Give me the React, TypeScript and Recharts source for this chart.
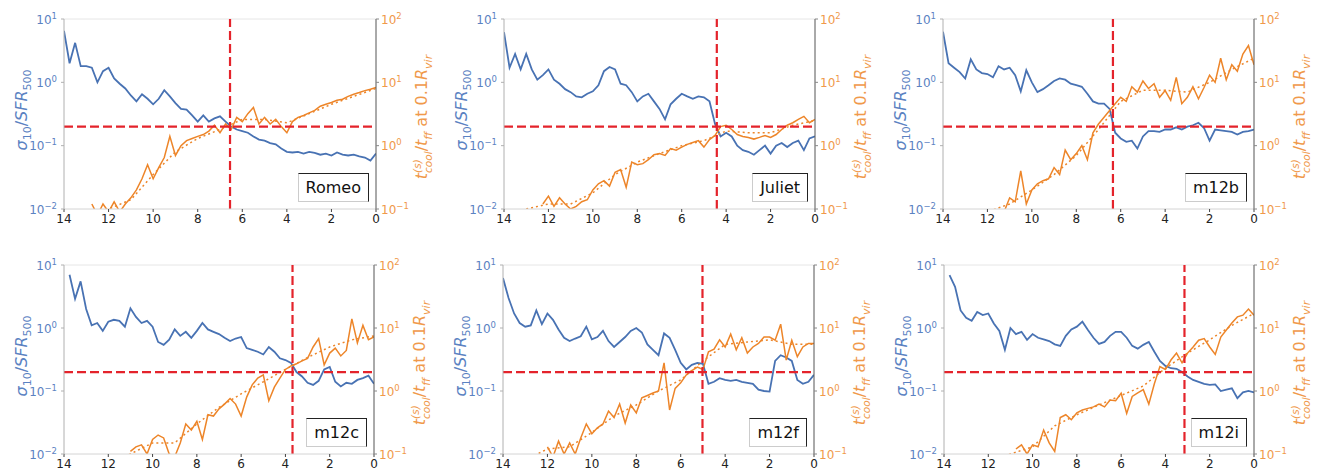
import { ComposedChart, Line, XAxis, YAxis, ReferenceLine } from "recharts";

const FONT = "'DejaVu Sans', sans-serif";
const BLUE = "#4872b3";
const ORANGE = "#ed8529";
const BLUE_TXT = "#5b82c2";
const ORANGE_TXT = "#f0994a";
const RED = "#e4232b";

// lookback time grid (Gyr) for the noisy series
const T = [14,
  13.75, 13.5, 13.25, 13, 12.75, 12.5, 12.25, 12, 11.75, 11.5, 11.25, 11,
  10.75, 10.5, 10.25, 10, 9.75, 9.5, 9.25, 9, 8.75, 8.5, 8.25, 8,
  7.75, 7.5, 7.25, 7, 6.75, 6.5, 6.25, 6, 5.75, 5.5, 5.25, 5,
  4.75, 4.5, 4.25, 4, 3.75, 3.5, 3.25, 3, 2.75, 2.5, 2.25, 2,
  1.75, 1.5, 1.25, 1, 0.75, 0.5, 0.25, 0];
// grid for the smoothed (dotted) curves
const TS = [13, 12, 11, 10, 9, 8, 7, 6, 5, 4, 3, 2, 1, 0];

const xTicks = [0, 2, 4, 6, 8, 10, 12, 14];
const leftTicks = [0.01, 0.1, 1, 10];
const leftTickExp = ["\u22122", "\u22121", "0", "1"];
const rightTicks = [0.1, 1, 10, 100];
const rightTickExp = ["\u22121", "0", "1", "2"];

const threshold = 0.2;

const romeoBlue = [6.5,
  2.0, 4.2, 1.8, 1.8, 1.7, 1.0, 1.5, 1.7, 1.15, 0.95, 0.8, 0.62,
  0.5, 0.65, 0.55, 0.45, 0.55, 0.75, 0.6, 0.47, 0.38, 0.37, 0.3, 0.24,
  0.3, 0.24, 0.27, 0.29, 0.24, 0.2, 0.18, 0.17, 0.16, 0.14, 0.125, 0.12,
  0.11, 0.105, 0.09, 0.08, 0.078, 0.08, 0.075, 0.08, 0.077, 0.072, 0.075, 0.07,
  0.078, 0.072, 0.07, 0.072, 0.068, 0.065, 0.058, 0.075];
const romeoOrange = [null,
  null, null, null, null, 0.12, 0.08, 0.12, 0.09, 0.13, 0.09, 0.12, 0.15,
  0.2, 0.3, 0.5, 0.3, 0.45, 0.65, 1.4, 0.7, 1.0, 1.2, 1.3, 1.4,
  1.5, 1.7, 2.1, 1.6, 2.2, 1.8, 2.8, 2.4, 3.2, 4.0, 2.2, 2.8,
  2.2, 2.6, 2.0, 1.6, 2.4, 2.8, 3.0, 3.3, 3.6, 4.2, 4.5, 4.8,
  5.2, 5.4, 6.0, 6.5, 6.9, 7.4, 7.8, 8.3];
const romeoSmooth = [0.08, 0.1, 0.14, 0.35, 0.8, 1.3, 1.8, 2.6, 2.6, 2.3, 3.2, 4.5, 6.0, 8.0];

const julietBlue = [6.2,
  1.7, 2.8, 1.6, 2.8, 1.6, 1.1, 1.3, 1.6, 1.1, 0.95, 0.78, 0.7,
  0.6, 0.58, 0.66, 0.72, 0.9, 1.5, 1.75, 1.6, 0.95, 0.9, 0.7, 0.5,
  0.6, 0.66, 0.5, 0.38, 0.26, 0.45, 0.55, 0.66, 0.6, 0.55, 0.6, 0.58,
  0.5, 0.22, 0.14, 0.16, 0.14, 0.1, 0.085, 0.08, 0.072, 0.085, 0.1, 0.075,
  0.1, 0.11, 0.095, 0.11, 0.12, 0.085, 0.13, 0.14];
const julietOrange = [null,
  null, null, null, null, null, null, 0.12, 0.16, 0.11, 0.15, 0.12, 0.1,
  0.11, 0.13, 0.14, 0.2, 0.25, 0.28, 0.23, 0.38, 0.42, 0.22, 0.55, 0.5,
  0.52, 0.6, 0.72, 0.75, 0.7, 0.9, 0.85, 0.95, 1.05, 1.12, 1.2, 0.95,
  1.25, 1.45, 2.0, 2.1, 1.8, 1.5, 1.4, 1.35, 1.27, 1.35, 1.45, 1.35,
  1.5, 1.8, 2.1, 2.3, 2.6, 2.9, 2.3, 2.6];
const julietSmooth = [0.1, 0.12, 0.12, 0.18, 0.35, 0.55, 0.75, 1.0, 1.2, 1.7, 1.6, 1.6, 2.1, 2.5];

const m12bBlue = [6.3,
  2.0, 1.7, 1.45, 1.15, 2.3, 1.6, 1.4, 1.35, 1.2, 1.8, 1.6, 1.7,
  1.3, 0.72, 1.55, 1.0, 0.7, 0.78, 0.9, 1.05, 1.15, 1.1, 0.95, 0.9,
  0.85, 0.66, 0.5, 0.46, 0.46, 0.38, 0.16, 0.13, 0.115, 0.12, 0.09, 0.14,
  0.17, 0.17, 0.165, 0.18, 0.18, 0.195, 0.18, 0.2, 0.21, 0.23, 0.19, 0.12,
  0.18, 0.175, 0.17, 0.165, 0.15, 0.165, 0.17, 0.18];
const m12bOrange = [null,
  null, null, null, null, null, null, null, null, null, null, 0.09, 0.15,
  0.13, 0.4, 0.12, 0.2, 0.25, 0.28, 0.3, 0.45, 0.35, 0.85, 0.6, 0.75,
  1.0, 0.6, 1.6, 2.2, 2.8, 3.6, 4.6, 5.8, 5.0, 8.5, 7.0, 10.5,
  8.0, 9.5, 5.8, 7.4, 5.2, 12, 4.6, 5.8, 8.5, 5.5, 8.3, 13,
  10, 24, 11, 19, 15, 28, 38, 19];
const m12bSmooth = [0.07, 0.09, 0.12, 0.2, 0.35, 0.7, 1.8, 5.0, 7.5, 7.5, 7.0, 10, 16, 24];

const m12cBlue = [null,
  7.0, 2.9, 5.5, 2.0, 1.1, 1.2, 0.9, 1.26, 1.35, 1.3, 1.05, 2.05,
  1.5, 1.2, 1.3, 1.05, 0.6, 0.54, 0.65, 0.95, 0.75, 0.87, 0.7, 0.9,
  1.2, 0.95, 0.87, 0.8, 0.7, 0.62, 0.68, 0.72, 0.48, 0.45, 0.42, 0.38,
  0.5, 0.42, 0.33, 0.31, 0.28, 0.2, 0.17, 0.135, 0.125, 0.145, 0.22, 0.24,
  0.14, 0.118, 0.135, 0.13, 0.15, 0.16, 0.175, 0.13];
const m12cOrange = [null,
  null, null, null, null, null, null, null, null, null, null, null, 0.11,
  0.13, 0.14, 0.1, 0.17, 0.2, 0.18, 0.1, 0.09, 0.15, 0.3, 0.24, 0.33,
  0.17, 0.42, 0.4, 0.52, 0.62, 0.76, 0.62, 0.4, 0.8, 1.25, 1.6, 1.8,
  0.7, 1.15, 1.6, 2.2, 2.5, 2.7, 3.0, 3.3, 5.0, 6.8, 2.6, 4.0,
  4.8, 3.6, 4.4, 14, 5.8, 11, 6.5, 7.2];
const m12cSmooth = [0.06, 0.08, 0.1, 0.15, 0.15, 0.3, 0.55, 0.9, 1.4, 2.2, 3.4, 5.0, 6.5, 7.5];

const m12fBlue = [6.2,
  3.0, 1.7, 1.2, 1.05, 1.1, 1.9, 1.15, 1.7, 1.35, 0.95, 0.7, 0.62,
  0.68, 0.74, 1.05, 0.66, 0.72, 0.9, 0.62, 0.5, 0.6, 0.72, 0.9, 1.0,
  0.85, 0.55, 0.45, 0.37, 0.82, 0.7, 0.45, 0.28, 0.22, 0.26, 0.28, 0.27,
  0.13, 0.14, 0.16, 0.15, 0.145, 0.15, 0.14, 0.135, 0.13, 0.105, 0.1, 0.098,
  0.3, 0.37, 0.34, 0.3, 0.15, 0.13, 0.14, 0.18];
const m12fOrange = [null,
  null, null, null, null, null, null, null, 0.13, 0.09, 0.16, 0.1, 0.15,
  0.1, 0.18, 0.3, 0.21, 0.26, 0.3, 0.48, 0.38, 0.62, 0.31, 0.6, 0.45,
  0.78, 0.85, 0.93, 1.0, 2.8, 0.5, 1.1, 1.35, 1.8, 2.1, 2.4, 2.2,
  4.2, 4.6, 6.5, 5.0, 8.0, 4.5, 7.0, 4.0, 5.0, 5.7, 7.2, 7.2,
  6.4, 11.5, 3.1, 6.4, 3.5, 5.0, 5.7, 5.7];
const m12fSmooth = [0.08, 0.12, 0.13, 0.22, 0.4, 0.6, 1.0, 1.5, 3.0, 5.5, 6.0, 6.5, 5.5, 5.5];

const m12iBlue = [null,
  6.9, 4.5, 1.9, 1.45, 1.3, 1.8, 1.6, 1.7, 1.18, 0.9, 0.45, 1.0,
  0.8, 0.87, 0.65, 0.8, 0.7, 0.66, 0.62, 0.55, 0.52, 0.75, 0.95, 1.05,
  1.26, 0.93, 0.7, 0.56, 0.6, 0.75, 0.87, 0.87, 0.7, 0.52, 0.47, 0.54,
  0.6, 0.42, 0.3, 0.25, 0.23, 0.225, 0.2, 0.17, 0.15, 0.14, 0.13, 0.125,
  0.127, 0.1, 0.105, 0.11, 0.077, 0.095, 0.1, 0.095];
const m12iOrange = [null,
  null, null, null, null, null, null, null, null, null, null, null, null,
  0.12, 0.14, 0.1, 0.14, 0.13, 0.24, 0.15, 0.11, 0.38, 0.42, 0.35, 0.45,
  0.5, 0.53, 0.56, 0.62, 0.56, 0.72, 0.7, 0.92, 0.44, 0.82, 0.93, 1.05,
  0.62, 1.3, 2.45, 2.2, 3.1, 4.0, 2.8, 4.0, 5.0, 6.4, 6.8, 5.0,
  3.8, 7.2, 9.3, 12, 15, 16, 20, 16];
const m12iSmooth = [0.06, 0.08, 0.1, 0.13, 0.28, 0.42, 0.6, 0.85, 1.2, 2.3, 4.0, 6.5, 11, 17];

const names = ["Romeo", "Juliet", "m12b", "m12c", "m12f", "m12i"];
const crossings = [6.55, 4.42, 6.35, 3.68, 5.02, 3.14];
const blues = [romeoBlue, julietBlue, m12bBlue, m12cBlue, m12fBlue, m12iBlue];
const oranges = [romeoOrange, julietOrange, m12bOrange, m12cOrange, m12fOrange, m12iOrange];
const smooths = [romeoSmooth, julietSmooth, m12bSmooth, m12cSmooth, m12fSmooth, m12iSmooth];

// plot-area rectangles on the page: [left, top, right, bottom]
const frames = [
  [64, 19, 376, 209], [504, 19, 815, 209], [943, 19, 1254, 209],
  [64, 265, 374, 454], [503, 265, 814, 454], [944, 265, 1254, 454],
];

const LW = 64, RW = 60, TOP = 14, XH = 16;

function LogTick(props: any) {
  const { x, y, index, fill, anchor, exps } = props;
  return (
    <text x={x} y={y} dy={4.5} textAnchor={anchor} fill={fill} fontFamily={FONT} fontSize={12}>
      10<tspan dy={-5} fontSize={8.5}>{exps[index]}</tspan>
    </text>
  );
}

function Panel({ k }: { k: number }) {
  const [x0, y0, x1, y1] = frames[k];
  const rows = T.map((t, i) => ({ t, b: blues[k][i], o: oranges[k][i] }));
  const smooth = TS.map((t, i) => ({ t, s: smooths[k][i] }));
  const pw = x1 - x0, ph = y1 - y0;
  const cy = (y0 + y1) / 2;
  return (
    <>
      <div style={{ position: "absolute", left: x0 - LW, top: y0 - TOP }}>
        <ComposedChart width={LW + pw + RW} height={TOP + ph + XH} data={rows}
          margin={{ top: TOP, right: 0, bottom: 0, left: 0 }}>
          <XAxis dataKey="t" type="number" domain={[0, 14]} reversed ticks={xTicks} interval={0}
            allowDataOverflow height={XH} tickSize={3} tickMargin={2}
            tick={{ fill: "#222", fontSize: 12, fontFamily: FONT }}
            tickLine={{ stroke: "#444" }} axisLine={{ stroke: "#d4d4d4" }} />
          <YAxis yAxisId="l" type="number" scale="log" domain={[0.01, 10]} ticks={leftTicks} interval={0}
            allowDataOverflow width={LW} tickSize={3} tickMargin={4}
            axisLine={{ stroke: "#b0b0b0" }} tickLine={{ stroke: "#b0b0b0" }}
            tick={(p: any) => <LogTick {...p} fill={BLUE_TXT} anchor="end" exps={leftTickExp} />} />
          <YAxis yAxisId="r" orientation="right" type="number" scale="log" domain={[0.1, 100]} ticks={rightTicks}
            interval={0} allowDataOverflow width={RW} tickSize={3} tickMargin={2}
            axisLine={{ stroke: "#555" }} tickLine={{ stroke: "#888" }}
            tick={(p: any) => <LogTick {...p} fill={ORANGE_TXT} anchor="start" exps={rightTickExp} />} />
          <ReferenceLine yAxisId="l" y={10} stroke="#e6e6e6" />
          <Line yAxisId="l" dataKey="b" stroke={BLUE} strokeWidth={1.8} dot={false} isAnimationActive={false} />
          <Line yAxisId="r" data={smooth} dataKey="s" stroke={ORANGE} strokeWidth={1.5} strokeDasharray="2 3"
            dot={false} isAnimationActive={false} />
          <Line yAxisId="r" dataKey="o" stroke={ORANGE} strokeWidth={1.5} dot={false} isAnimationActive={false} />
          <ReferenceLine yAxisId="l" y={threshold} stroke={RED} strokeWidth={2.2} strokeDasharray="9 4" />
          <ReferenceLine yAxisId="l" x={crossings[k]} stroke={RED} strokeWidth={2.2} strokeDasharray="9 4" />
        </ComposedChart>
      </div>
      <div style={{
        position: "absolute", left: x0 - 41, top: cy - 4, transform: "translate(-50%,-50%) rotate(-90deg)",
        whiteSpace: "nowrap", color: BLUE_TXT, fontFamily: FONT, fontSize: 16, lineHeight: "20px",
      }}>
        <i>σ</i><span style={{ fontSize: 11, position: "relative", top: 4 }}>10</span>/<i>SFR</i>
        <span style={{ fontSize: 11, position: "relative", top: 4 }}>500</span>
      </div>
      <div style={{
        position: "absolute", left: x1 + 47, top: cy + 3, transform: "translate(-50%,-50%) rotate(-90deg)",
        whiteSpace: "nowrap", color: ORANGE_TXT, fontFamily: FONT, fontSize: 16, lineHeight: "20px",
      }}>
        <i>t</i>
        <span style={{ display: "inline-flex", flexDirection: "column", verticalAlign: "middle", fontSize: 10.5, lineHeight: "11px", fontStyle: "italic" }}>
          <span>(s)</span><span>cool</span>
        </span>
        /<i>t</i><span style={{ fontSize: 11, position: "relative", top: 4, fontStyle: "italic" }}>ff</span> at 0.1<i>R</i>
        <span style={{ fontSize: 11, position: "relative", top: 4, fontStyle: "italic" }}>vir</span>
      </div>
      <div style={{
        position: "absolute", right: 1317 - (x1 - 7), bottom: 472 - (y1 - 7), background: "#fff",
        borderTop: "1.5px solid #222", borderRight: "1.5px solid #222", borderLeft: "1px solid #ccc",
        borderBottom: "1px solid #ccc", padding: "3px 7px", fontFamily: FONT, fontSize: 16, lineHeight: "21px", color: "#111",
      }}>{names[k]}</div>
    </>
  );
}

export default function App() {
  return (
    <div style={{ position: "absolute", left: 0, top: 0, width: 1317, height: 472, background: "#fff", overflow: "hidden" }}>
      {names.map((_, k) => <Panel key={k} k={k} />)}
    </div>
  );
}
